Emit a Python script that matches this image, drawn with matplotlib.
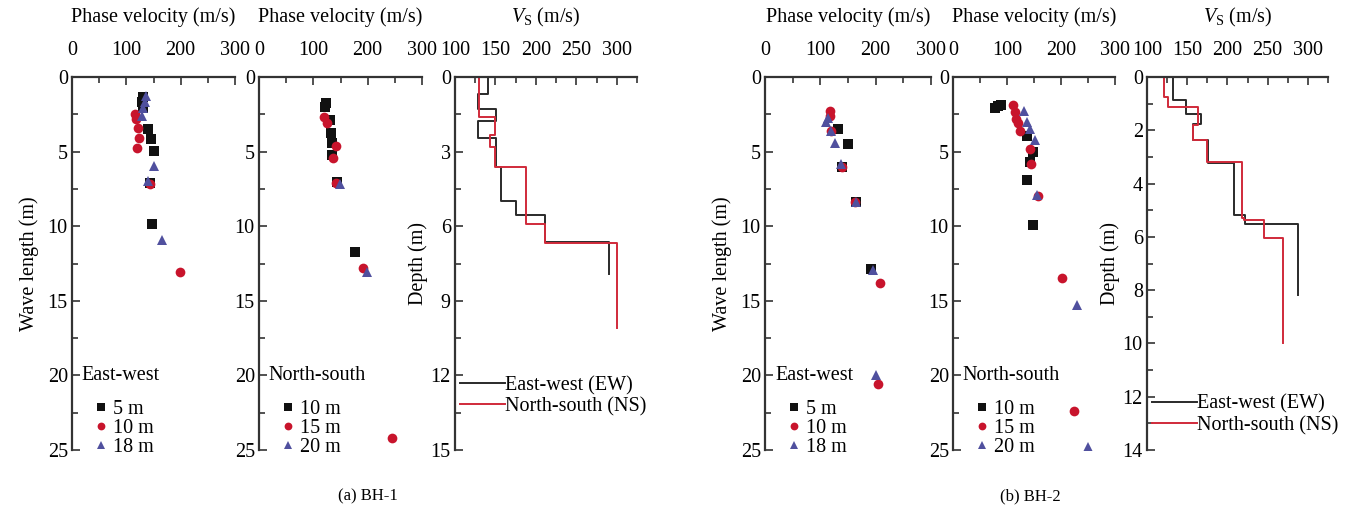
import numpy as np
import matplotlib.pyplot as plt
from matplotlib.ticker import MultipleLocator

plt.rcParams['font.family'] = ['Liberation Serif', 'DejaVu Serif']
plt.rcParams['mathtext.fontset'] = 'custom'
plt.rcParams['mathtext.rm'] = 'Liberation Serif'
plt.rcParams['mathtext.it'] = 'Liberation Serif:italic'
fs = 14.5

# ---- BH-1 phase velocity (m/s), wave length (m) ----
bh1_ew_5_v = [130, 128, 131, 140, 145, 151, 144, 148]
bh1_ew_5_l = [1.35, 1.7, 2.1, 3.5, 4.15, 4.95, 7.1, 9.85]
bh1_ew_10_v = [116, 118, 122, 124, 119, 144, 199]
bh1_ew_10_l = [2.45, 2.8, 3.45, 4.1, 4.75, 7.15, 13.1]
bh1_ew_18_v = [137, 134, 131, 128, 150, 140, 166]
bh1_ew_18_l = [1.3, 1.7, 2.1, 2.6, 5.95, 7.0, 10.95]

bh1_ns_10_v = [123, 122, 130, 133, 134, 134, 144, 177]
bh1_ns_10_l = [1.75, 2.0, 2.85, 3.75, 4.4, 5.25, 7.05, 11.7]
bh1_ns_15_v = [120, 125, 141, 137, 142, 192, 244]
bh1_ns_15_l = [2.65, 3.1, 4.65, 5.4, 7.1, 12.8, 24.2]
bh1_ns_20_v = [149, 199]
bh1_ns_20_l = [7.2, 13.1]

# ---- BH-2 ----
bh2_ew_5_v = [132, 150, 140, 165, 192]
bh2_ew_5_l = [3.5, 4.5, 6.0, 8.4, 12.9]
bh2_ew_10_v = [117, 118, 120, 140, 162, 207, 204]
bh2_ew_10_l = [2.3, 2.6, 3.65, 6.0, 8.35, 13.8, 20.6]
bh2_ew_18_v = [113, 110, 119, 127, 137, 164, 195, 200]
bh2_ew_18_l = [2.75, 3.0, 3.6, 4.45, 5.85, 8.4, 12.95, 20.0]

bh2_ns_10_v = [77, 84, 89, 137, 149, 142, 137, 149]
bh2_ns_10_l = [2.1, 1.95, 1.85, 3.95, 5.0, 5.7, 6.9, 9.95]
bh2_ns_15_v = [112, 114, 117, 120, 124, 142, 145, 157, 201, 224]
bh2_ns_15_l = [1.9, 2.35, 2.8, 3.1, 3.6, 4.8, 5.8, 8.0, 13.5, 22.4]
bh2_ns_20_v = [131, 137, 142, 151, 156, 229, 250]
bh2_ns_20_l = [2.25, 3.0, 3.5, 4.25, 7.9, 15.3, 24.8]

# ---- Vs profiles: layer boundaries (m) and layer velocities (m/s) ----
bh1_ew_depth = [0, 0.67, 1.27, 1.75, 2.46, 3.6, 4.97, 5.53, 6.64, 7.92]
bh1_ew_vs = [141, 129, 151, 128, 151, 157, 176, 211, 291]
bh1_ns_depth = [0, 1.61, 2.35, 2.82, 3.6, 5.9, 6.68, 10.1]
bh1_ns_vs = [130, 149, 143, 149, 188, 211, 300]
bh2_ew_depth = [0, 0.87, 1.37, 1.78, 2.35, 3.24, 5.17, 5.5, 8.2]
bh2_ew_vs = [132, 148, 167, 157, 176, 208, 222, 288]
bh2_ns_depth = [0, 0.75, 1.12, 1.8, 2.35, 3.18, 5.3, 5.38, 6.05, 9.97]
bh2_ns_vs = [121, 126, 164, 157, 174, 218, 221, 246, 269]

c_blk = '#111111'
c_red = '#c8142c'
c_blu = '#50509e'
c_ln_blk = '#2a2a2a'
c_ln_red = '#d02a3a'

H = 517.0
W = 1361.0
top, bot = 77, 450
boxes = [(72, 235), (259, 422), (455, 637), (765, 931), (953, 1115), (1147, 1328)]

fig = plt.figure(figsize=(13.61, 5.17), dpi=100)
axs = []
for x0, x1 in boxes:
    ax = fig.add_axes([x0 / W, (H - bot) / H, (x1 - x0) / W, (bot - top) / H])
    axs.append(ax)


def style(ax):
    for s in ['right', 'bottom']:
        ax.spines[s].set_visible(False)
    for s in ['left', 'top']:
        ax.spines[s].set_linewidth(1.6)
        ax.spines[s].set_color('#333333')
    ax.tick_params(which='both', direction='in', top=True, labeltop=True,
                   bottom=False, labelbottom=False, right=False,
                   labelsize=fs, color='#333333', width=1.2)
    ax.tick_params(axis='x', pad=12)
    ax.tick_params(axis='y', pad=3)
    ax.tick_params(which='major', length=6)
    ax.tick_params(which='minor', length=4)


def scatter_panel(ax, sets, title, labels):
    for (v, l), mk, col in zip(sets, ['s', 'o', '^'], [c_blk, c_red, c_blu]):
        ax.plot(v, l, linestyle='none', marker=mk, color=col, markersize=7,
                markeredgewidth=0)
    ax.set_xlim(0, 300)
    ax.set_ylim(25, 0)
    ax.xaxis.set_major_locator(MultipleLocator(100))
    ax.xaxis.set_minor_locator(MultipleLocator(50))
    ax.yaxis.set_major_locator(MultipleLocator(5))
    ax.yaxis.set_minor_locator(MultipleLocator(2.5))
    style(ax)
    ax.text(0.06, 20, title, transform=ax.get_yaxis_transform(),
            fontsize=fs, va='center', ha='left')
    hs = ax.get_lines()
    ax.legend(hs, labels, loc='lower left', bbox_to_anchor=(0.14, -0.02),
              frameon=False, fontsize=fs, handlelength=0.6, handletextpad=0.3,
              labelspacing=0.0, borderpad=0, borderaxespad=0, markerscale=0.8)


def vs_xy(depth, vs):
    y = np.repeat(depth, 2)[1:-1]
    x = np.repeat(vs, 2)
    return x, y


def vs_panel(ax, ew, ns, ymax, ystep, legy):
    x, y = vs_xy(*ew)
    ax.plot(x, y, color=c_ln_blk, lw=1.4, label='East-west (EW)')
    x, y = vs_xy(*ns)
    ax.plot(x, y, color=c_ln_red, lw=1.4, label='North-south (NS)')
    ax.set_xlim(100, 325)
    ax.set_ylim(ymax, 0)
    ax.xaxis.set_major_locator(MultipleLocator(50))
    ax.xaxis.set_minor_locator(MultipleLocator(25))
    ax.yaxis.set_major_locator(MultipleLocator(ystep))
    ax.yaxis.set_minor_locator(MultipleLocator(ystep / 2))
    style(ax)
    ax.set_ylabel('Depth (m)', fontsize=fs, labelpad=2)
    ax.legend(loc='lower left', bbox_to_anchor=(0.03, legy), frameon=False,
              fontsize=fs, handlelength=2.2, handletextpad=0.0,
              labelspacing=0.1, borderpad=0, borderaxespad=0)


scatter_panel(axs[0], [(bh1_ew_5_v, bh1_ew_5_l), (bh1_ew_10_v, bh1_ew_10_l),
                       (bh1_ew_18_v, bh1_ew_18_l)], 'East-west',
              ['5 m', '10 m', '18 m'])
scatter_panel(axs[1], [(bh1_ns_10_v, bh1_ns_10_l), (bh1_ns_15_v, bh1_ns_15_l),
                       (bh1_ns_20_v, bh1_ns_20_l)], 'North-south',
              ['10 m', '15 m', '20 m'])
vs_panel(axs[2], (bh1_ew_depth, bh1_ew_vs), (bh1_ns_depth, bh1_ns_vs), 15, 3, 0.09)

scatter_panel(axs[3], [(bh2_ew_5_v, bh2_ew_5_l), (bh2_ew_10_v, bh2_ew_10_l),
                       (bh2_ew_18_v, bh2_ew_18_l)], 'East-west',
              ['5 m', '10 m', '18 m'])
scatter_panel(axs[4], [(bh2_ns_10_v, bh2_ns_10_l), (bh2_ns_15_v, bh2_ns_15_l),
                       (bh2_ns_20_v, bh2_ns_20_l)], 'North-south',
              ['10 m', '15 m', '20 m'])
vs_panel(axs[5], (bh2_ew_depth, bh2_ew_vs), (bh2_ns_depth, bh2_ns_vs), 14, 2, 0.04)

for i in [0, 3]:
    axs[i].set_ylabel('Wave length (m)', fontsize=fs, labelpad=6)

titles = ['Phase velocity (m/s)', 'Phase velocity (m/s)', r'$V_\mathrm{S}$ (m/s)'] * 2
for ax, t in zip(axs, titles):
    bb = ax.get_position()
    fig.text(bb.x0 + bb.width / 2, 1 - 17 / H, t, ha='center', va='center',
             fontsize=fs)

fig.text(368 / W, 1 - 496 / H, '(a) BH-1', ha='center', va='center', fontsize=12)
fig.text(1030 / W, 1 - 496 / H, '(b) BH-2', ha='center', va='center', fontsize=12)

fig.savefig('out.png', dpi=100)
